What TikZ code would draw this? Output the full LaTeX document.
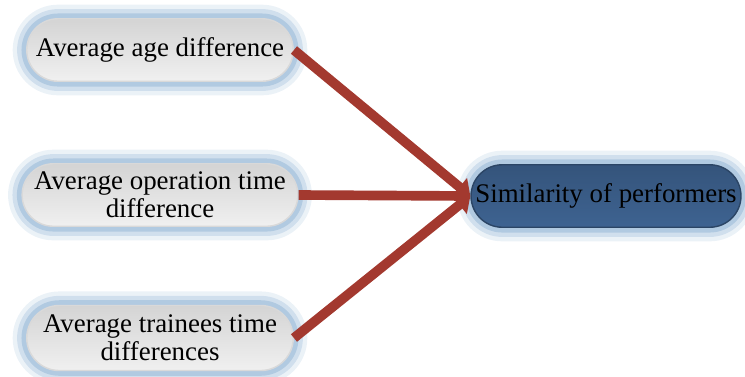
\documentclass[tikz,border=0pt]{standalone}
\usepackage{fontspec}
\setmainfont{Liberation Serif}
\usetikzlibrary{arrows.meta, shapes.misc, positioning}
\definecolor{glowblue}{HTML}{9DBCD9}
\definecolor{pillgray}{HTML}{D4D4D4}
\definecolor{pilllight}{HTML}{F0F0F0}
\definecolor{pillblue}{HTML}{3E6391}
\definecolor{linkred}{HTML}{A3392F}
\tikzset{
  glow/.style={preaction={draw=glowblue, draw opacity=0.2, line width=16pt},
               preaction={draw=glowblue, draw opacity=0.35, line width=11pt},
               preaction={draw=glowblue, draw opacity=0.6, line width=6pt}},
  factor/.style={rounded rectangle, glow, draw=white!85!black, line width=0.8pt,
                 top color=pillgray, bottom color=pilllight,
                 minimum width=5.4cm, minimum height=1.25cm, align=center,
                 font=\fontsize{15.3}{16}\selectfont, inner sep=1pt},
  result/.style={factor, top color=pillblue!85!black, bottom color=pillblue,
                 draw=pillblue!70!black, minimum width=5.36cm}
}
\begin{document}
\begin{tikzpicture}[-{Triangle[length=8pt, width=13pt]}, line width=5.5pt, draw=linkred, node distance=2.9cm]
\useasboundingbox (0,0) rectangle (14.9,-7.52);
\node[factor](op) at (3.2,-3.9){Average operation time\\difference};
\node[factor](age)[above of=op]{Average age difference};
\node[factor](tr)[below of=op, yshift=0.04cm, minimum height=1.3cm]{Average trainees time\\differences};
\node[result](sim)[right of=op, node distance=8.92cm, yshift=-0.02cm]{Similarity of performers};
\path[linkred] (age.east) edge (sim.west);
\path[linkred] (op.east) edge (sim.west);
\path[linkred] (tr.east) edge (sim.west);
\end{tikzpicture}
\end{document}
